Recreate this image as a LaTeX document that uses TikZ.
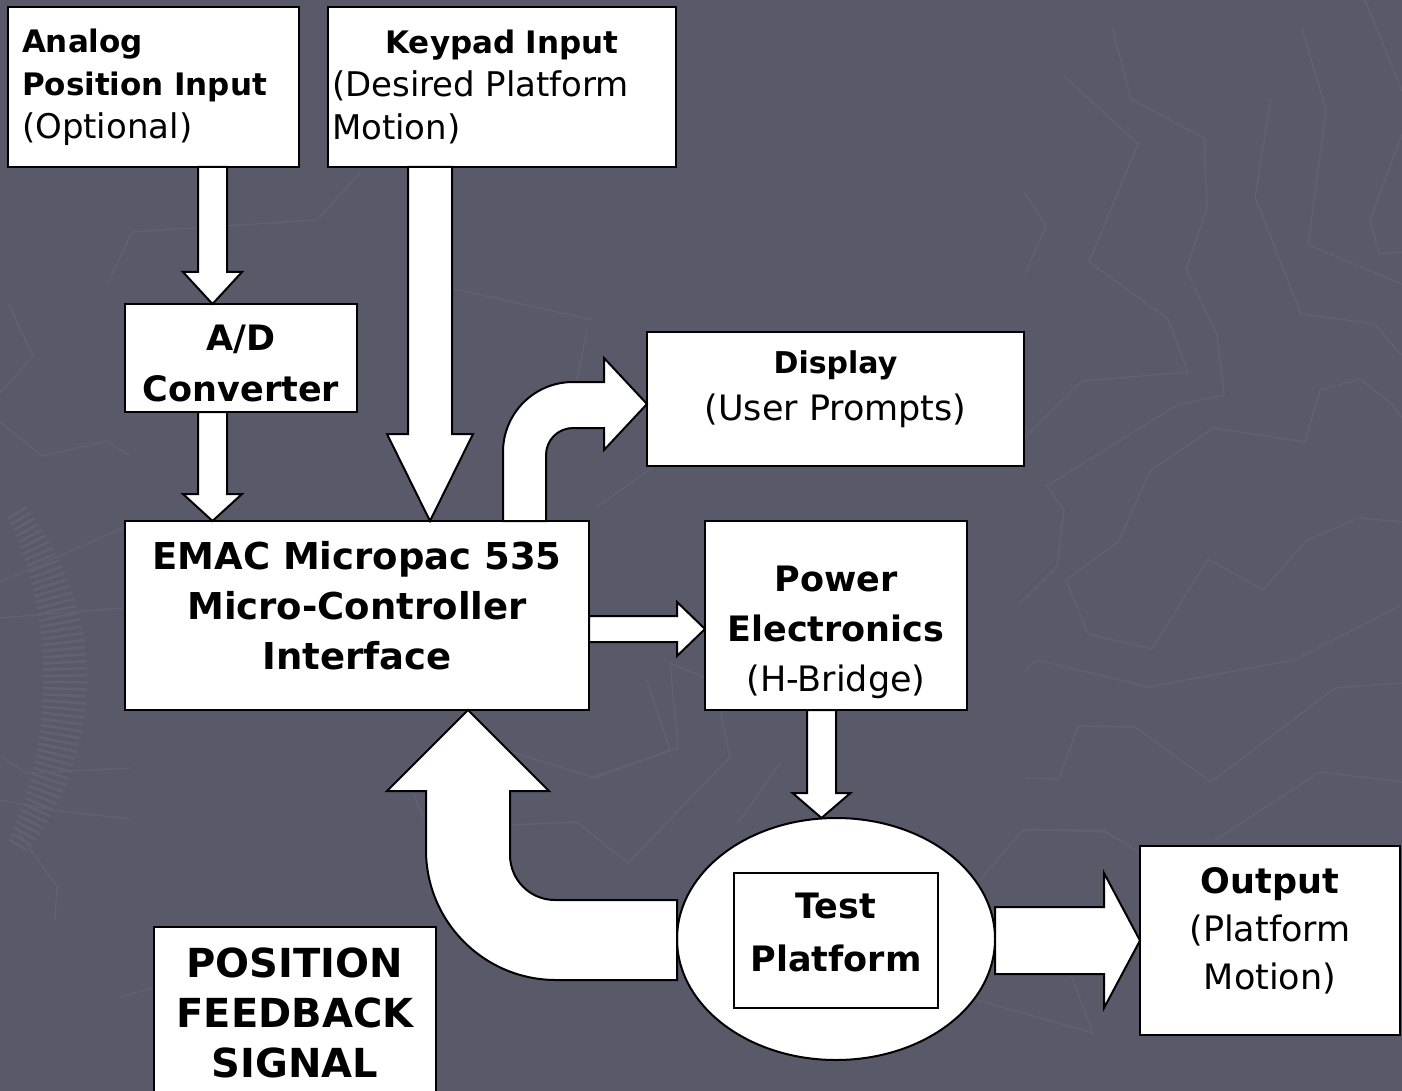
\documentclass[tikz,border=0pt]{standalone}
\usepackage{fontspec}
\setmainfont{DejaVu Sans}
\usetikzlibrary{calc, shapes.geometric}

\definecolor{slidebg}{RGB}{88,90,106}
\definecolor{slideline}{RGB}{96,98,114}

% font sizes, in px (1pt = 1px here)
\newcommand\hdfont{\fontsize{31}{43}\selectfont}
\newcommand\bgfont{\fontsize{35}{51}\selectfont}

\tikzset{
  box/.style={draw, fill=white, line width=2.5pt, inner sep=0pt, outer sep=0pt, anchor=north west},
  boxtext/.style={align=center, inner sep=0pt},
  blockarrow/.style={draw, fill=white, line width=2pt, line join=miter},
  faint/.style={draw=slideline, line width=1.3pt},
}

% block arrow pointing down: x, from, to, half shaft, half head, head length
\newcommand\vblock[6]{%
  \draw[blockarrow] let \p1=(#2), \p2=(#3) in
    ({#1pt-#4pt},\y1) -- ({#1pt-#4pt},{\y2+#6pt}) -- ({#1pt-#5pt},{\y2+#6pt})
    -- ({#1pt},\y2) -- ({#1pt+#5pt},{\y2+#6pt}) -- ({#1pt+#4pt},{\y2+#6pt})
    -- ({#1pt+#4pt},\y1) -- cycle;}
% block arrow pointing right: y, from, to, half shaft, half head, head length
\newcommand\hblock[6]{%
  \draw[blockarrow] let \p1=(#2), \p2=(#3) in
    (\x1,{-#1pt+#4pt}) -- ({\x2-#6pt},{-#1pt+#4pt}) -- ({\x2-#6pt},{-#1pt+#5pt})
    -- (\x2,{-#1pt}) -- ({\x2-#6pt},{-#1pt-#5pt}) -- ({\x2-#6pt},{-#1pt-#4pt})
    -- (\x1,{-#1pt-#4pt}) -- cycle;}

\begin{document}
\begin{tikzpicture}[x=1pt, y=-1pt]
  \fill[slidebg] (0,0) rectangle (1402,1091);
  \useasboundingbox (0,0) rectangle (1402,1091);
  \clip (0,0) rectangle (1402,1091);

  % background strokes
  \draw[faint] (108,283) -- (132,232) -- (317,220) -- (360,173);
  \draw[faint] (450,288) -- (593,320);
  \draw[faint] (413,793) -- (423,817);
  \draw[faint] (490,745) -- (595,778) -- (670,750) -- (647,680);
  \draw[faint] (510,825) -- (577,822) -- (628,863) -- (730,757) -- (720,710);
  \draw[faint] (738,823) -- (780,763);
  \draw[faint] (587,330) -- (577,380);
  \draw[faint] (653,467) -- (597,507);
  \draw[faint] (593,777) -- (678,748) -- (670,663) -- (727,687);
  \draw[faint] (980,880) -- (1023,830) -- (1103,830) -- (1140,853);
  \draw[faint] (977,1000) -- (1093,1033) -- (1070,973);
  \draw[faint] (120,997) -- (153,988);
  \draw[faint] (1112,27) -- (1131,99) -- (1204,138) -- (1207,209) -- (1186,269) -- (1217,335)
    -- (1224,395) -- (1177,405) -- (1047,486) -- (1064,510) -- (1057,566) -- (1020,603);
  \draw[faint] (1063,75) -- (1138,144) -- (1089,262) -- (1168,319) -- (1188,372) -- (1082,381) -- (1025,437);
  \draw[faint] (1025,193) -- (1046,226) -- (1025,273);
  \draw[faint] (1302,29) -- (1326,110) -- (1308,245) -- (1402,284);
  \draw[faint] (1271,99) -- (1255,197) -- (1301,314) -- (1375,324) -- (1402,356);
  \draw[faint] (1365,0) -- (1402,91);
  \draw[faint] (1402,134) -- (1370,220) -- (1379,254) -- (1402,252);
  \draw[faint] (1402,418) -- (1393,405) -- (1360,379) -- (1320,390) -- (1305,442) -- (1213,428)
    -- (1150,471) -- (1119,541) -- (1066,580) -- (1088,634) -- (1152,649) -- (1208,559)
    -- (1263,590) -- (1307,540) -- (1359,518) -- (1402,522);
  \draw[faint] (1025,670) -- (1037,660) -- (1148,687) -- (1294,660) -- (1400,606);
  \draw[faint] (1025,778) -- (1059,779) -- (1078,726) -- (1135,727) -- (1211,782) -- (1335,688) -- (1402,683);
  \draw[faint] (1215,840) -- (1320,772) -- (1402,782);
  \draw[faint] (1025,829) -- (1105,832) -- (1118,840);
  \draw[faint] (0,422) -- (42,456) -- (107,441) -- (130,456);
  \draw[faint] (8,303) -- (33,356) -- (0,393);
  \draw[faint] (0,618) -- (123,608);
  \draw[faint] (0,582) -- (123,528);
  \draw[faint] (0,756) -- (27,773) -- (130,768);
  \draw[faint] (20,834) -- (57,887) -- (55,920);
  \draw[faint] (0,800) -- (53,810) -- (130,819);
  % hatched arc on the left edge
  \foreach \a in {-32,-30.8,...,32} {
    \pgfmathsetmacro{\len}{12+10*cos(3*\a)}
    \draw[slideline, line width=2.5pt] ({-250+(315-\len)*cos(\a)},{680+(315-\len)*sin(\a)})
      -- ({-250+(315+\len)*cos(\a)},{680+(315+\len)*sin(\a)});
  }

  % boxes
  \node[box, minimum width=291pt, minimum height=160pt, text width=263pt, align=left, font=\hdfont] (analog) at (8,7)
    {\textbf{Analog}\\\textbf{Position Input}\\{\fontsize{34}{43}\selectfont(Optional)}};
  \node[box, minimum width=348pt, minimum height=160pt, text width=340pt, align=left, font=\hdfont] (keypad) at (328,7)
    {\makebox[340pt]{\bfseries Keypad Input}\\{\fontsize{34}{43}\selectfont(Desired Platform}\\{\fontsize{34}{43}\selectfont Motion)}};
  \node[box, minimum width=232pt, minimum height=108pt] (adconv) at (125,304) {};
  \node[boxtext, font=\bgfont\bfseries] (adtext) at ([yshift=-5pt]adconv.center) {A/D\\Converter};
  \node[box, minimum width=464pt, minimum height=189pt] (emac) at (125,521) {};
  \node[boxtext, font=\fontsize{37}{50}\selectfont\bfseries] (emactext) at ([yshift=10pt]emac.center)
    {EMAC Micropac 535\\Micro-Controller\\Interface};
  \node[box, minimum width=377pt, minimum height=134pt] (display) at (647,332) {};
  \node[boxtext, font=\fontsize{30}{47}\selectfont] (displaytext) at ([yshift=10pt]display.center)
    {\textbf{Display}\\{\fontsize{35}{47}\selectfont(User Prompts)}};
  \node[box, minimum width=262pt, minimum height=189pt] (power) at (705,521) {};
  \node[boxtext, font=\fontsize{35}{50}\selectfont] (powertext) at ([yshift=-17pt]power.center)
    {\textbf{Power}\\\textbf{Electronics}\\(H-Bridge)};
  \node[box, minimum width=260pt, minimum height=189pt] (output) at (1140,846) {};
  \node[boxtext, font=\fontsize{35}{48}\selectfont] (outputtext) at ([yshift=10pt]output.center)
    {\textbf{Output}\\(Platform\\Motion)};
  \node[box, minimum width=282pt, minimum height=172pt, align=center, font=\fontsize{40}{50}\selectfont\bfseries] (feedback) at (154,927)
    {POSITION\\FEEDBACK\\SIGNAL};
  \node[ellipse, draw, fill=white, line width=2pt, minimum width=318pt, minimum height=242pt, inner sep=0pt, outer sep=0pt] (test) at (836,939) {};
  \node[draw, line width=1.5pt, minimum width=204pt, minimum height=135pt, inner sep=0pt] (testbox) at (836,940.5) {};
  \node[boxtext, font=\fontsize{35}{53}\selectfont\bfseries] (testtext) at ([yshift=8pt]testbox.center) {Test\\Platform};

  % straight block arrows
  \vblock{212.5}{analog.south}{adconv.north}{14.5}{29.5}{32}
  \vblock{212.5}{adconv.south}{emac.north}{14.5}{29.5}{27}
  \vblock{430}{keypad.south}{emac.north}{22}{43}{87}
  \hblock{629}{emac.east}{power.west}{13}{27}{28}
  \vblock{821.5}{power.south}{test.north}{14.5}{29}{25}
  \hblock{940.5}{test.east}{output.west}{33.5}{67.5}{36}

  % bent arrow up to the display
  \draw[blockarrow] (emac.north -| 503,0) -- (503,452)
    .. controls (503,413.3) and (534.3,382) .. (573,382) -- (604,382) -- (604,358)
    -- (display.west |- 0,404) -- (604,450) -- (604,428) -- (573,428)
    .. controls (558.1,428) and (546,440.1) .. (546,455) -- (emac.north -| 546,0) -- cycle;

  % feedback arrow from the platform back to the controller
  \draw[blockarrow] (test.west |- 0,900) -- (555,900)
    .. controls (530.1,900) and (510,879.9) .. (510,855) -- (510,791) -- (549,791)
    -- (emac.south -| 468,0) -- (387,791) -- (426,791) -- (426,850)
    .. controls (426,921.8) and (484.2,980) .. (556,980) -- (test.west |- 0,980) -- cycle;
\end{tikzpicture}
\end{document}
